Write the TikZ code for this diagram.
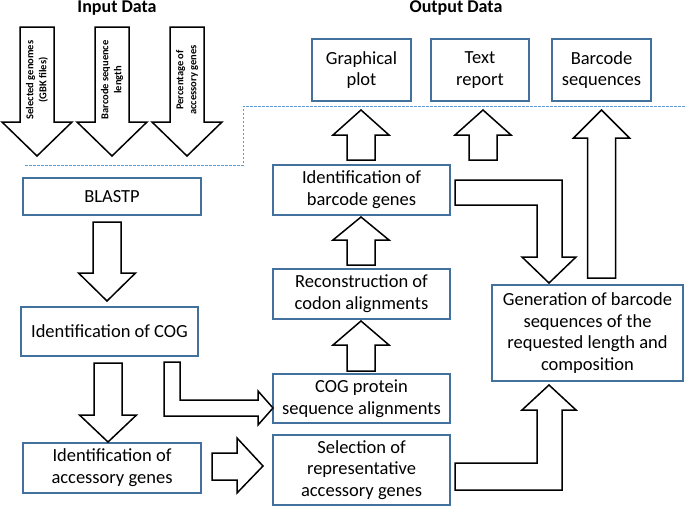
\documentclass[tikz,border=0pt]{standalone}
\usepackage{fontspec}
\setmainfont{Carlito}
\usetikzlibrary{positioning}
\definecolor{boxblue}{HTML}{41719C}
\definecolor{dashblue}{HTML}{5B9BD5}
\tikzset{
box/.style={draw=boxblue, line width=1.8pt, align=center, inner sep=2pt, font=\fontsize{18.5}{21.7}\selectfont},
blockarrow/.style={draw=black, line width=1.5pt, fill=white, line join=miter},
intext/.style={rotate=90, align=center, font=\fontsize{10.5}{13}\selectfont\bfseries},
title/.style={font=\fontsize{18}{20}\selectfont\bfseries}
}
\begin{document}
\begin{tikzpicture}[x=1pt,y=-1pt]
\useasboundingbox (0,0) rectangle (685,506);
\node[title] (intitle) at (117,8) {Input Data};
\node[title] (outtitle) at (456,8) {Output Data};
% input data
\foreach \x/\txt [count=\i] in {37/{Selected genomes\\(GBK files)},112/{Barcode sequence\\length},187/{Percentage of\\accessory genes}}{
\draw[blockarrow] (\x-17,27)--(\x+17,27)--(\x+17,122)--(\x+35,122)--(\x,156)--(\x-35,122)--(\x-17,122)--cycle;
\node[intext] (in\i) at (\x,80) {\txt};
}
\draw[dashblue, line width=0.8pt, dash pattern=on 2.5pt off 1.5pt] (25,165)--(243,165)--(243,106)--(685,106);
% steps
\node[box, minimum width=178pt, minimum height=37pt] (blastp) at (112,196.5) {BLASTP};
\node[box, minimum width=177pt, minimum height=49pt] (cog) at (109.5,331.5) {Identification of COG};
\node[box, minimum width=178pt, minimum height=50pt] (acc) at (112,468) {Identification of\\accessory genes};
\node[box, minimum width=177pt, minimum height=49pt] (cogaln) at (361.5,398.5) {COG protein\\sequence alignments};
\node[box, minimum width=177pt, minimum height=70pt] (selrep) at (361.5,470) {Selection of\\representative\\accessory genes};
\node[box, minimum width=177pt, minimum height=50pt] (codon) at (361.5,294) {Reconstruction of\\codon alignments};
\node[box, minimum width=177pt, minimum height=50pt] (bcgenes) at (361.5,190) {Identification of\\barcode genes};
\node[box, minimum width=191pt, minimum height=96pt] (gener) at (587.5,333) {Generation of barcode\\sequences of the\\requested length and\\composition};
% output data
\node[box, minimum width=99pt, minimum height=62pt] (plot) at (361.5,70) {Graphical\\plot};
\node[box, minimum width=98pt, minimum height=62pt] (report) at (480,70) {Text\\report};
\node[box, minimum width=99pt, minimum height=62pt] (bcseq) at (601.5,70) {Barcode\\sequences};
% down arrows
\foreach \x/\a/\b/\c in {107/222/273/301,108/363/415/442}{
\draw[blockarrow] (\x-14,\a)--(\x+14,\a)--(\x+14,\b)--(\x+28.5,\b)--(\x,\c)--(\x-28.5,\b)--(\x-14,\b)--cycle;
}
% up arrows
\foreach \x/\a/\b/\c in {361/265/240/217,361/371/345/321,361/160/135/110,483/160/135/110,601.5/278/138/110}{
\draw[blockarrow] (\x-14,\a)--(\x+14,\a)--(\x+14,\b)--(\x+28,\b)--(\x,\c)--(\x-28,\b)--(\x-14,\b)--cycle;
}
% right arrow
\draw[blockarrow] (212,453)--(237,453)--(237,438)--(263,466)--(237,493)--(237,480)--(212,480)--cycle;
% elbow arrows
\draw[blockarrow] (164,362)--(164,416)--(258,416)--(258,425)--(273,408)--(258,391)--(258,400)--(180,400)--(180,362)--cycle;
\draw[blockarrow] (455,180)--(562,180)--(562,257)--(576,257)--(549,283)--(522,257)--(537,257)--(537,205)--(455,205)--cycle;
\draw[blockarrow] (455,490)--(562,490)--(562,410)--(576,410)--(549,385)--(522,410)--(537,410)--(537,463)--(455,463)--cycle;
\end{tikzpicture}
\end{document}
